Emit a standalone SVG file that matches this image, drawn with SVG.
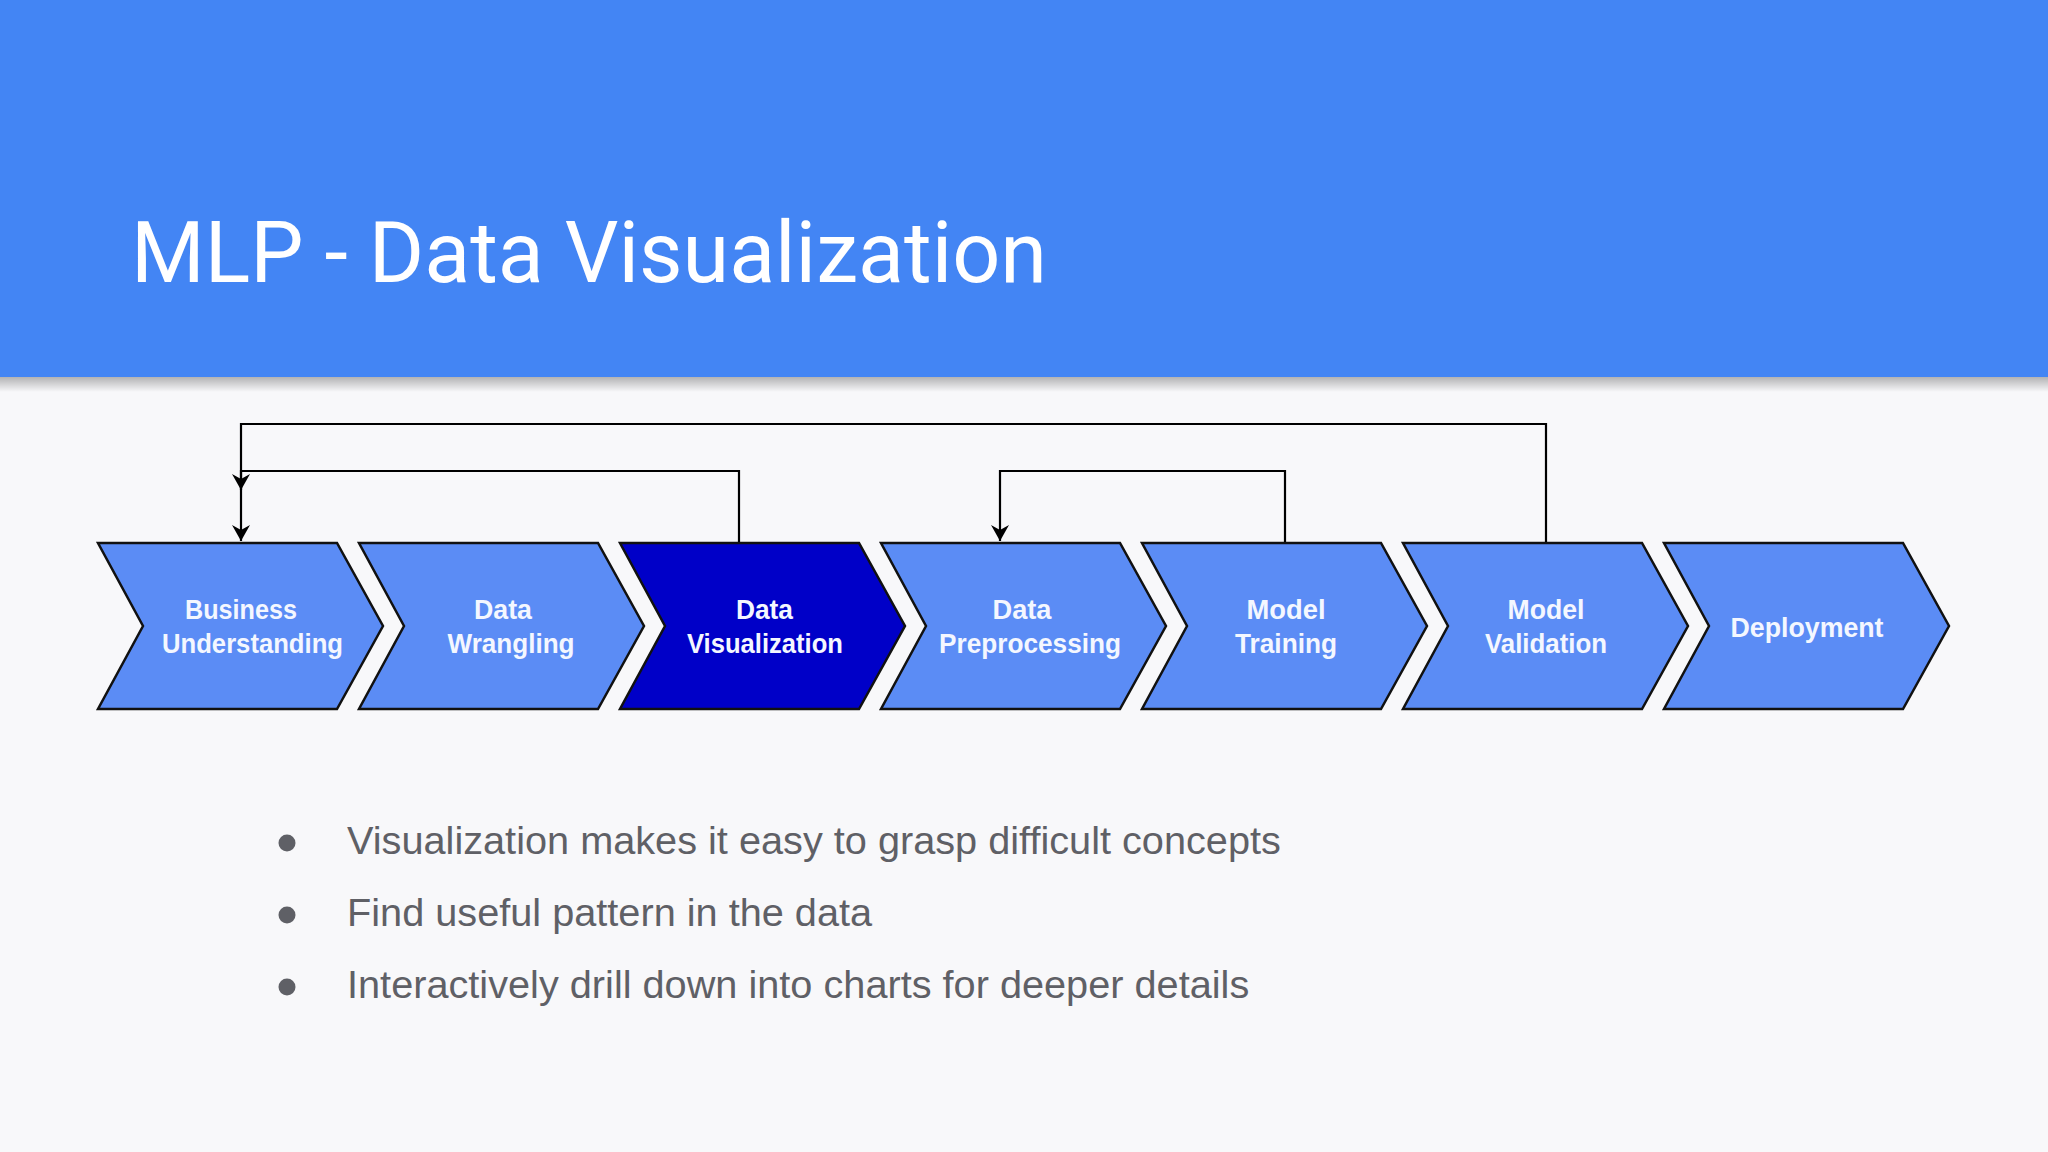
<svg xmlns="http://www.w3.org/2000/svg" width="2048" height="1152" viewBox="0 0 2048 1152">
  <defs>
    <linearGradient id="shadow" x1="0" y1="0" x2="0" y2="1">
      <stop offset="0" stop-color="#000" stop-opacity="0.28"/>
      <stop offset="1" stop-color="#000" stop-opacity="0"/>
    </linearGradient>
    <marker id="arrow" viewBox="0 0 16 18" refX="16" refY="9" markerWidth="16" markerHeight="18" markerUnits="userSpaceOnUse" orient="auto">
      <path d="M0,0 L16,9 L0,18 L5,9 Z" fill="#000"/>
    </marker>
    <style>
      .chev { fill: #5b8cf5; stroke: #111; stroke-width: 2.5; stroke-linejoin: miter; }
      .chev.active { fill: #0000c8; }
      .lbl { font-family: "Liberation Sans", Arial, sans-serif; font-weight: bold; font-size: 28px; fill: #f4f7ff; text-anchor: middle; }
      .conn { fill: none; stroke: #000; stroke-width: 2.2; }
      .bullet-text { font-family: "Liberation Sans", Arial, sans-serif; font-size: 39.7px; fill: #5f6066; }
      .dot { fill: #5f6066; }
    </style>
  </defs>

  <rect x="0" y="0" width="2048" height="1152" fill="#f8f8fa"/>
  <g id="header">
    <rect x="0" y="0" width="2048" height="377" fill="#4385f4"/>
    <rect x="0" y="377" width="2048" height="15" fill="url(#shadow)"/>
    <text x="131" y="282" font-family="Roboto, 'Liberation Sans', sans-serif" font-size="85" fill="#ffffff" textLength="916" lengthAdjust="spacingAndGlyphs">MLP - Data Visualization</text>
  </g>

  <g id="node-business-understanding">
    <path class="chev" d="M98,543 H337 L383,626 L337,709 H98 L143,626 Z"/>
    <text class="lbl" x="241" y="619" textLength="112" lengthAdjust="spacingAndGlyphs">Business</text>
    <text class="lbl" x="252.5" y="653" textLength="181" lengthAdjust="spacingAndGlyphs">Understanding</text>
  </g>
  <g id="node-data-wrangling">
    <path class="chev" d="M359,543 H598 L644,626 L598,709 H359 L404,626 Z"/>
    <text class="lbl" x="503" y="619" textLength="58" lengthAdjust="spacingAndGlyphs">Data</text>
    <text class="lbl" x="511" y="653" textLength="127" lengthAdjust="spacingAndGlyphs">Wrangling</text>
  </g>
  <g id="node-data-visualization">
    <path class="chev active" d="M620,543 H859 L905,626 L859,709 H620 L665,626 Z"/>
    <text class="lbl" x="764.5" y="619" textLength="57" lengthAdjust="spacingAndGlyphs">Data</text>
    <text class="lbl" x="765" y="653" textLength="156" lengthAdjust="spacingAndGlyphs">Visualization</text>
  </g>
  <g id="node-data-preprocessing">
    <path class="chev" d="M881,543 H1120 L1166,626 L1120,709 H881 L926,626 Z"/>
    <text class="lbl" x="1022" y="619" textLength="59" lengthAdjust="spacingAndGlyphs">Data</text>
    <text class="lbl" x="1030" y="653" textLength="182" lengthAdjust="spacingAndGlyphs">Preprocessing</text>
  </g>
  <g id="node-model-training">
    <path class="chev" d="M1142,543 H1381 L1427,626 L1381,709 H1142 L1187,626 Z"/>
    <text class="lbl" x="1286" y="619" textLength="79" lengthAdjust="spacingAndGlyphs">Model</text>
    <text class="lbl" x="1286" y="653" textLength="102" lengthAdjust="spacingAndGlyphs">Training</text>
  </g>
  <g id="node-model-validation">
    <path class="chev" d="M1403,543 H1642 L1688,626 L1642,709 H1403 L1448,626 Z"/>
    <text class="lbl" x="1546" y="619" textLength="77" lengthAdjust="spacingAndGlyphs">Model</text>
    <text class="lbl" x="1546" y="653" textLength="122" lengthAdjust="spacingAndGlyphs">Validation</text>
  </g>
  <g id="node-deployment">
    <path class="chev" d="M1664,543 H1903 L1949,626 L1903,709 H1664 L1709,626 Z"/>
    <text class="lbl" x="1807" y="637" textLength="153" lengthAdjust="spacingAndGlyphs">Deployment</text>
  </g>

  <g id="connectors">
    <path class="conn" d="M1546,542 V424 H241 V490" marker-end="url(#arrow)"/>
    <path class="conn" d="M739,542 V471 H241 V541" marker-end="url(#arrow)"/>
    <path class="conn" d="M1285,542 V471 H1000 V541" marker-end="url(#arrow)"/>
  </g>

  <g id="bullets">
    <circle class="dot" cx="287" cy="843" r="8.5"/>
    <text class="bullet-text" x="347" y="854">Visualization makes it easy to grasp difficult concepts</text>
    <circle class="dot" cx="287" cy="915" r="8.5"/>
    <text class="bullet-text" x="347" y="926">Find useful pattern in the data</text>
    <circle class="dot" cx="287" cy="987" r="8.5"/>
    <text class="bullet-text" x="347" y="998">Interactively drill down into charts for deeper details</text>
  </g>
</svg>
